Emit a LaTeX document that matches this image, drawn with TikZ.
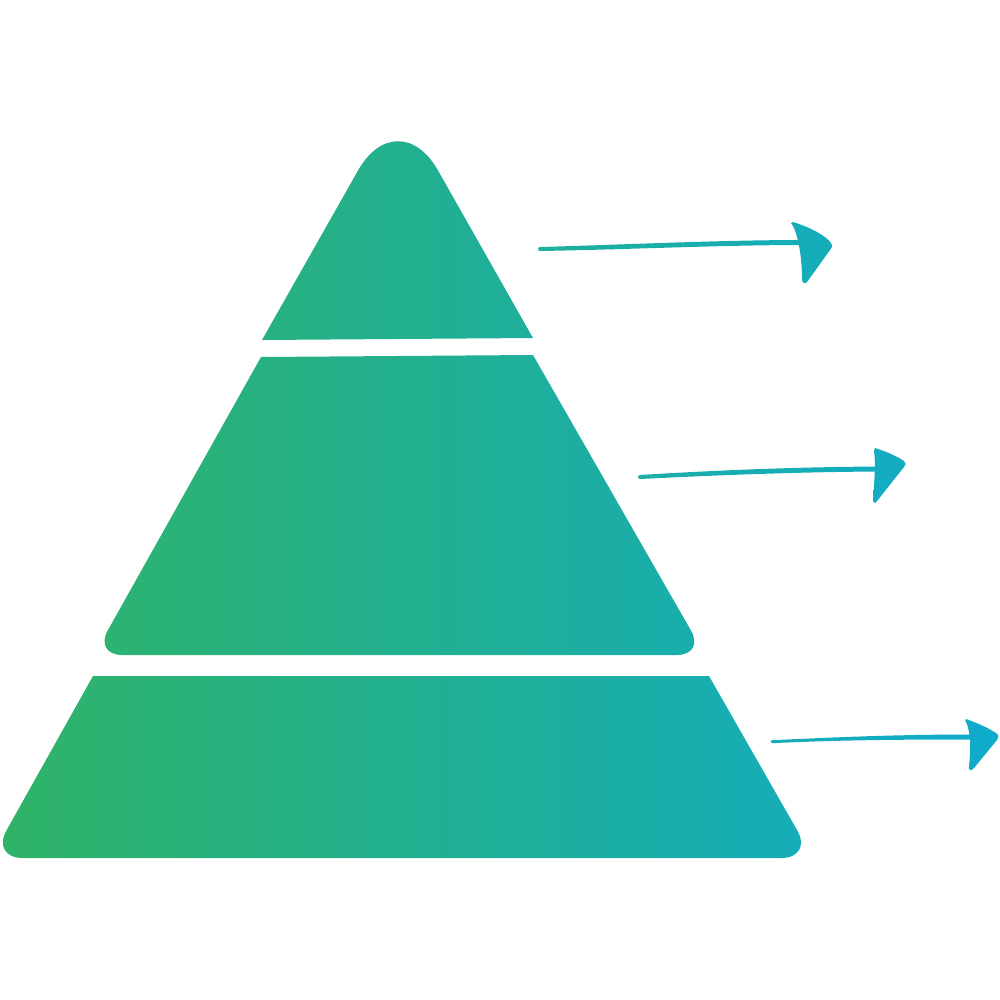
\documentclass[tikz,border=0pt]{standalone}
\usepackage{tikz}
\usepackage{xcolor}
\definecolor{pyrgreen}{HTML}{30B366}
\definecolor{pyrteal}{HTML}{0FABCC}
\tikzset{
  gradfill/.style={path picture={\shade[left color=pyrgreen, right color=pyrteal] (0,0) rectangle (1000,1000);}}
}

\begin{document}
\begin{tikzpicture}[x=0.01cm, y=-0.01cm]
    \useasboundingbox (0,0) rectangle (1000,1000);

    % Top tier
    \path[gradfill] (330,220) [rounded corners=23pt] -- (398,100)
        [sharp corners] -- (466.1,220) -- (533,338) -- (262,340) -- cycle;

    % Middle tier
    \path[gradfill] (177.5,506) [rounded corners=8pt] -- (94,655) -- (705,655) -- (619,505)
        [sharp corners] -- (533,355) -- (261,357) -- cycle;

    % Bottom tier
    \path[gradfill] (42,767) [rounded corners=9pt] -- (-9,858) -- (813,858) -- (761,767)
        [sharp corners] -- (709,676) -- (93,676) -- cycle;

    % Arrow shafts
    \path[gradfill] (540,247) .. controls (630,244.5) and (720,240) .. (805,240)
        -- (805,245) .. controls (720,245) and (630,249.5) .. (540,251)
        .. controls (537.5,251) and (537.5,247) .. cycle;
    \path[gradfill] (640,475) .. controls (720,470) and (800,467) .. (878,466.5)
        -- (878,471.5) .. controls (800,472) and (720,475) .. (640,479)
        .. controls (637.5,479) and (637.5,475) .. cycle;
    \path[gradfill] (772,740.2) .. controls (840,737) and (900,734.5) .. (970,734.5)
        -- (970,739.5) .. controls (900,739.5) and (840,740) .. (772,743.2)
        .. controls (770,743.2) and (770,740.2) .. cycle;

    % Arrow heads
    \path[gradfill] (793,222) .. controls (812,228) and (826,236) .. (831,243)
        .. controls (833,246) and (832,248) .. (830,250) -- (807,282)
        .. controls (804,285) and (802,282) .. (802,279)
        .. controls (802,260) and (799,238) .. (793,226)
        .. controls (791,223) .. cycle;
    \path[gradfill] (875,448) .. controls (888,452) and (898,457) .. (904,461)
        .. controls (906,463) and (906,465) .. (904,467) -- (877,501)
        .. controls (875,504) and (873,503) .. (873,500)
        .. controls (874,485) and (876,465) .. (874,451)
        .. controls (874,449) .. cycle;
    \path[gradfill] (966,719) .. controls (980,724) and (990,729) .. (996,733)
        .. controls (999,735) and (999,738) .. (997,740) -- (974,768)
        .. controls (971,772) and (968,770) .. (969,766)
        .. controls (970,755) and (972,740) .. (967,724)
        .. controls (965,721) .. cycle;
\end{tikzpicture}
\end{document}
